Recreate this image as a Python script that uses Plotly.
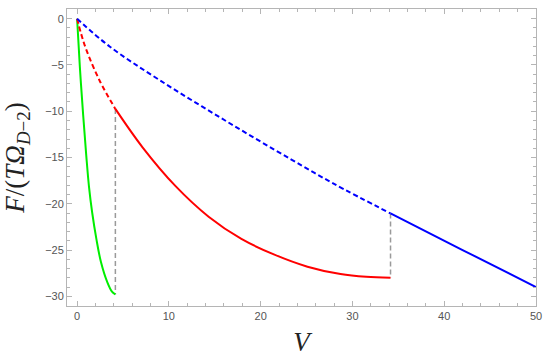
import plotly.graph_objects as go

# values
green_x = [0, 0.3, 0.66, 1.0, 1.3, 1.65, 2.1, 2.6, 3.3, 3.8, 4.17]
green_y = [0, -5.2, -10.4, -14.8, -18.2, -21.0, -23.8, -26.3, -28.5, -29.5, -29.8]

red_dash_x = [0, 0.4, 1.02, 2.46, 4.17]
red_dash_y = [0, -1.5, -3.4, -6.7, -9.75]

red_x = [4.17, 7.13, 10.73, 14.33, 17.9, 21.5, 25.1, 28.7, 31.5, 34.15]
red_y = [-9.75, -13.9, -18.1, -21.4, -23.8, -25.5, -26.8, -27.6, -27.9, -28.0]

blue_dash_x = [0, 3.54, 8.93, 16.13, 23.3, 28.0, 34.15]
blue_dash_y = [0, -3.0, -6.6, -11.0, -15.2, -17.85, -21.05]

blue_x = [34.15, 42.0, 50.0]
blue_y = [-21.05, -25.0, -29.0]

jump1_x = [4.17, 4.17]
jump1_y = [-9.75, -29.8]
jump2_x = [34.15, 34.15]
jump2_y = [-21.05, -28.0]

fig = go.Figure()

for xs, ys in [(jump1_x, jump1_y), (jump2_x, jump2_y)]:
    fig.add_trace(go.Scatter(x=xs, y=ys, mode="lines",
                             line=dict(color="#9a9a9a", width=1.5, dash="5px,3px")))

fig.add_trace(go.Scatter(x=green_x, y=green_y, mode="lines", line_shape="spline",
                         line=dict(color="#00ee00", width=2)))
fig.add_trace(go.Scatter(x=red_dash_x, y=red_dash_y, mode="lines", line_shape="spline",
                         line=dict(color="#ff0000", width=2, dash="5px,3px")))
fig.add_trace(go.Scatter(x=red_x, y=red_y, mode="lines", line_shape="spline",
                         line=dict(color="#ff0000", width=2)))
fig.add_trace(go.Scatter(x=blue_dash_x, y=blue_dash_y, mode="lines", line_shape="spline",
                         line=dict(color="#0000ff", width=2, dash="5px,3px")))
fig.add_trace(go.Scatter(x=blue_x, y=blue_y, mode="lines", line_shape="spline",
                         line=dict(color="#0000ff", width=2)))

axis_common = dict(
    showline=True, linecolor="#b5b5b5", linewidth=1, mirror="allticks",
    ticks="inside", ticklen=5, tickcolor="#b5b5b5", tickwidth=1,
    showgrid=False, zeroline=False, ticklabeloverflow="allow",
    tickfont=dict(family="Liberation Sans, Arial", size=11, color="#555555"),
)

fig.update_xaxes(
    **axis_common,
    range=[-1.1, 50],
    tickvals=[0, 10, 20, 30, 40, 50],
    minor=dict(ticks="inside", ticklen=3, tickcolor="#b5b5b5", dtick=2, tick0=0, showgrid=False),
    title=dict(text="<i>V</i>", font=dict(family="Liberation Serif, Times New Roman", size=27, color="#222222"),
               standoff=10),
)
fig.update_yaxes(
    **axis_common,
    range=[-31.05, 1.05],
    tickvals=[0, -5, -10, -15, -20, -25, -30],
    ticktext=["0", "\u22125", "\u221210", "\u221215", "\u221220", "\u221225", "\u221230"],
    minor=dict(ticks="inside", ticklen=3, tickcolor="#b5b5b5", dtick=1, tick0=0, showgrid=False),
    title=dict(text="<i>F</i>/(<i>T\u03a9</i><sub><i>D</i>\u22122</sub>)",
               font=dict(family="Liberation Serif, Times New Roman", size=27, color="#222222"),
               standoff=12),
)

fig.update_layout(
    width=550, height=361,
    margin=dict(l=67, r=9, t=8, b=55),
    plot_bgcolor="white", paper_bgcolor="white",
    showlegend=False,
)

# drop the default 8px body margin so the 550x361 figure fills the window
fig.write_html("out.html", config={"displayModeBar": False},
               post_script="document.body.style.margin='0';")
